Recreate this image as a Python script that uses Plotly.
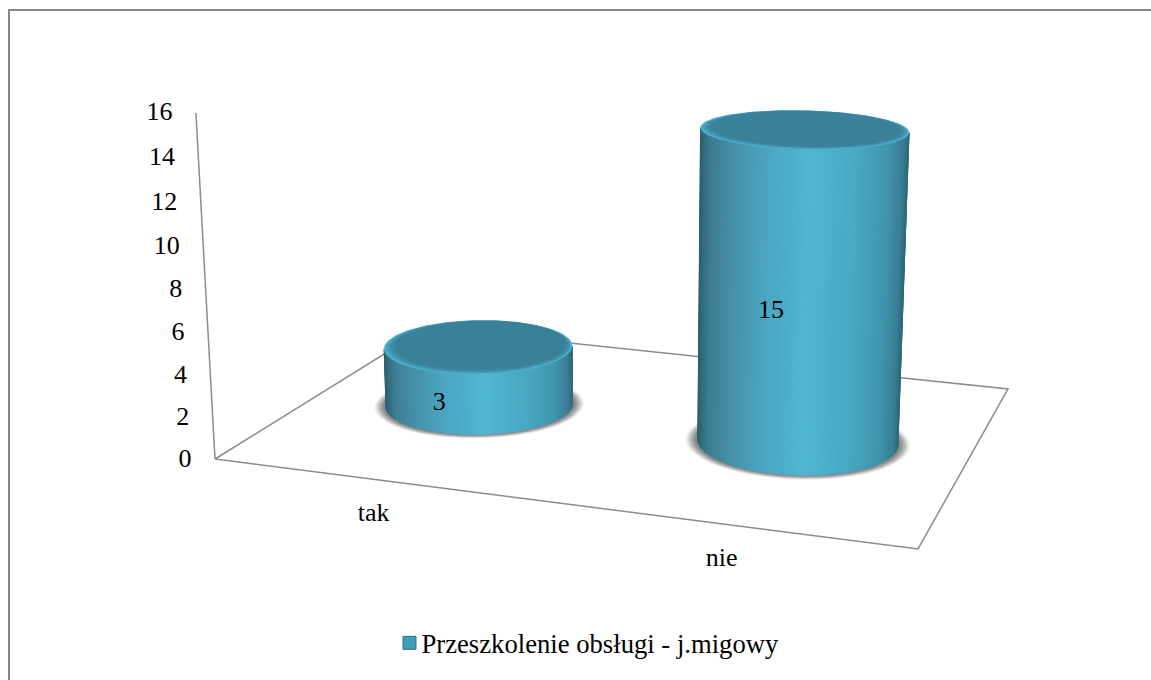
import numpy as np
import plotly.graph_objects as go

categories = ["tak", "nie"]
values = [3, 15]
z_ticks = [0, 2, 4, 6, 8, 10, 12, 14, 16]
series_name = "Przeszkolenie obsługi - j.migowy"
z_max = 16

W, H = 1151, 680
FONT = "Liberation Serif"
LINE = "#8c8c8c"

# Camera of the 3-D chart: floor (u, v in 0..1) and height (z in 0..1) to page position.
CAM = np.array([[614.6, 305.9, -27.7, 215.0],
                [37.1, -57.9, -351.0, 459.0],
                [-0.0963, 0.2228, -0.044, 1.0]])
POS_U = [(i + 0.5) / len(categories) for i in range(len(categories))]
POS_V = 0.5
RU, RV = 0.1453, 0.2067
R_SCALE = [0.97, 1.0]


def project(u, v, z):
    u, v, z = np.broadcast_arrays(u, v, z)
    q = np.stack([u, v, z, np.ones_like(u, dtype=float)])
    a, b, c = CAM @ q
    return a / c, b / c


def hexrgb(h):
    return np.array([int(h[i:i + 2], 16) for i in (1, 3, 5)], float)


def ramp(stops, t):
    ts = [s[0] for s in stops]
    cs = np.array([hexrgb(s[1]) for s in stops])
    rgb = [np.interp(t, ts, cs[:, k]) for k in range(3)]
    return "rgb(%d,%d,%d)" % tuple(int(round(x)) for x in rgb)


SIDE = [(0, "#2b6070"), (.02, "#336e82"), (.05, "#3d7d92"), (.15, "#4690a8"), (.3, "#4ba4c0"),
        (.52, "#50b7d2"), (.75, "#48a8c2"), (.9, "#4095ad"), (.97, "#3a7f94"), (1, "#2f6a7c")]
SHADOW = [(1.0, "#808080"), (1.03, "#8f8f8f"), (1.07, "#b8b8b8"), (1.10, "#e0e0e0"), (1.13, "#ffffff")]
CAP = [(1.0, "#4cb0cd"), (.985, "#48a6c2"), (.97, "#4398b2"), (.95, "#3e8ba4"), (.92, "#3a8099")]

fig = go.Figure()


def poly(x, y, color):
    fig.add_trace(go.Scatter(x=x, y=y, mode="lines", fill="toself", fillcolor=color,
                             line=dict(color=color, width=0.5), hoverinfo="skip", showlegend=False))


# floor outline and value axis
fx, fy = project([0, 1, 1, 0, 0], [0, 0, 1, 1, 0], 0)
fig.add_trace(go.Scatter(x=fx, y=fy, mode="lines", line=dict(color=LINE, width=1.5), hoverinfo="skip", showlegend=False))
ax, ay = project([0, 0], [0, 0], [0, 1])
fig.add_trace(go.Scatter(x=ax, y=ay, mode="lines", line=dict(color=LINE, width=1.5), hoverinfo="skip", showlegend=False))

th = np.linspace(0, 2 * np.pi, 241)
for u0, v, rs in zip(POS_U, values, R_SCALE):
    z = v / z_max
    ru, rv = RU * rs, RV * rs
    # shadow
    for s in np.linspace(1.13, 1.0, 14):
        x, y = project(u0 + s * ru * np.cos(th), POS_V + s * rv * np.sin(th), 0)
        poly(x, y, ramp(SHADOW, s))
    # side, painted strip by strip from left to right
    fine = np.linspace(0, 2 * np.pi, 1441)[:-1]
    mx, my = project(u0 + ru * np.cos(fine), POS_V + rv * np.sin(fine), z / 2)
    tl, tr = fine[np.argmin(mx)], fine[np.argmax(mx)]
    low = fine[np.argmax(my)]
    a0, a1 = tl, tr
    if not ((a0 < low < a1) or (a1 < low < a0)):
        if a0 < a1:
            a0 += 2 * np.pi
        else:
            a1 += 2 * np.pi
    N = 110
    ang = np.linspace(a0, a1, N + 1)
    xmin, xmax = mx.min(), mx.max()
    for i in range(N):
        seg = np.linspace(ang[i], ang[min(i + 2, N)], 3)
        bx, by = project(u0 + ru * np.cos(seg), POS_V + rv * np.sin(seg), 0)
        tx, ty = project(u0 + ru * np.cos(seg), POS_V + rv * np.sin(seg), z)
        px, _ = project(u0 + ru * np.cos(ang[i]), POS_V + rv * np.sin(ang[i]), z / 2)
        t = float((px - xmin) / (xmax - xmin))
        poly(np.r_[bx, tx[::-1], bx[0]], np.r_[by, ty[::-1], by[0]], ramp(SIDE, t))
    # top: the bright rim shows mostly on the near edge
    for s, c in CAP:
        x, y = project(u0 + s * ru * np.cos(th), POS_V + (1 - s) * rv * 0.75 + s * rv * np.sin(th), z)
        poly(x, y, c)

TEXT = dict(family=FONT, size=26, color="#000")
# value axis labels
lx, ly = project(0, 0, np.array(z_ticks) / z_max)
fig.add_trace(go.Scatter(x=lx - 23.5, y=ly + 1, mode="text", text=[str(t) for t in z_ticks], textposition="middle left",
                         textfont=TEXT, hoverinfo="skip", showlegend=False))
# category labels
cx, cy = project(POS_U, 0, 0)
fig.add_trace(go.Scatter(x=cx + np.array([-4, -7]), y=cy + 35, mode="text", text=categories, textposition="middle center",
                         textfont=TEXT, hoverinfo="skip", showlegend=False))
# value labels
dx, dy = project(POS_U, POS_V, np.array(values) / z_max / 2)
fig.add_trace(go.Scatter(x=dx + np.array([-40, -30]), y=dy + np.array([28, 23]), mode="text", text=[str(v) for v in values],
                         textposition="middle center", textfont=TEXT, hoverinfo="skip", showlegend=False))
# legend entry
fig.add_trace(go.Scatter(x=[None], y=[None], mode="markers", name=series_name,
                         marker=dict(symbol="square", size=13, color="#3f9db9", line=dict(color="#2f6f84", width=1))))

fig.update_layout(
    width=W, height=H, autosize=False, margin=dict(l=0, r=0, t=0, b=0, pad=0),
    paper_bgcolor="white", plot_bgcolor="white",
    font=dict(family=FONT, size=26, color="#000"),
    showlegend=True,
    legend=dict(x=381.5 / W, y=1 - 643 / H, xanchor="left", yanchor="middle", bgcolor="rgba(0,0,0,0)",
                font=dict(family=FONT, size=26.67, color="#000")),
    xaxis=dict(range=[0, W], visible=False, fixedrange=True),
    yaxis=dict(range=[H, 0], visible=False, fixedrange=True),
    shapes=[dict(type="line", xref="paper", yref="paper", x0=9 / W, x1=9 / W, y0=0, y1=1 - 9 / H, line=dict(color="#868686", width=2)),
            dict(type="line", xref="paper", yref="paper", x0=8 / W, x1=1, y0=1 - 10 / H, y1=1 - 10 / H, line=dict(color="#868686", width=2))],
)
fig.write_html("out.html", config=dict(displayModeBar=False),
               post_script="document.body.style.margin='0';document.documentElement.style.overflow='hidden';"
                           "document.querySelectorAll('.legendpoints').forEach(function(g){g.setAttribute('transform','translate(8,0)');});")
